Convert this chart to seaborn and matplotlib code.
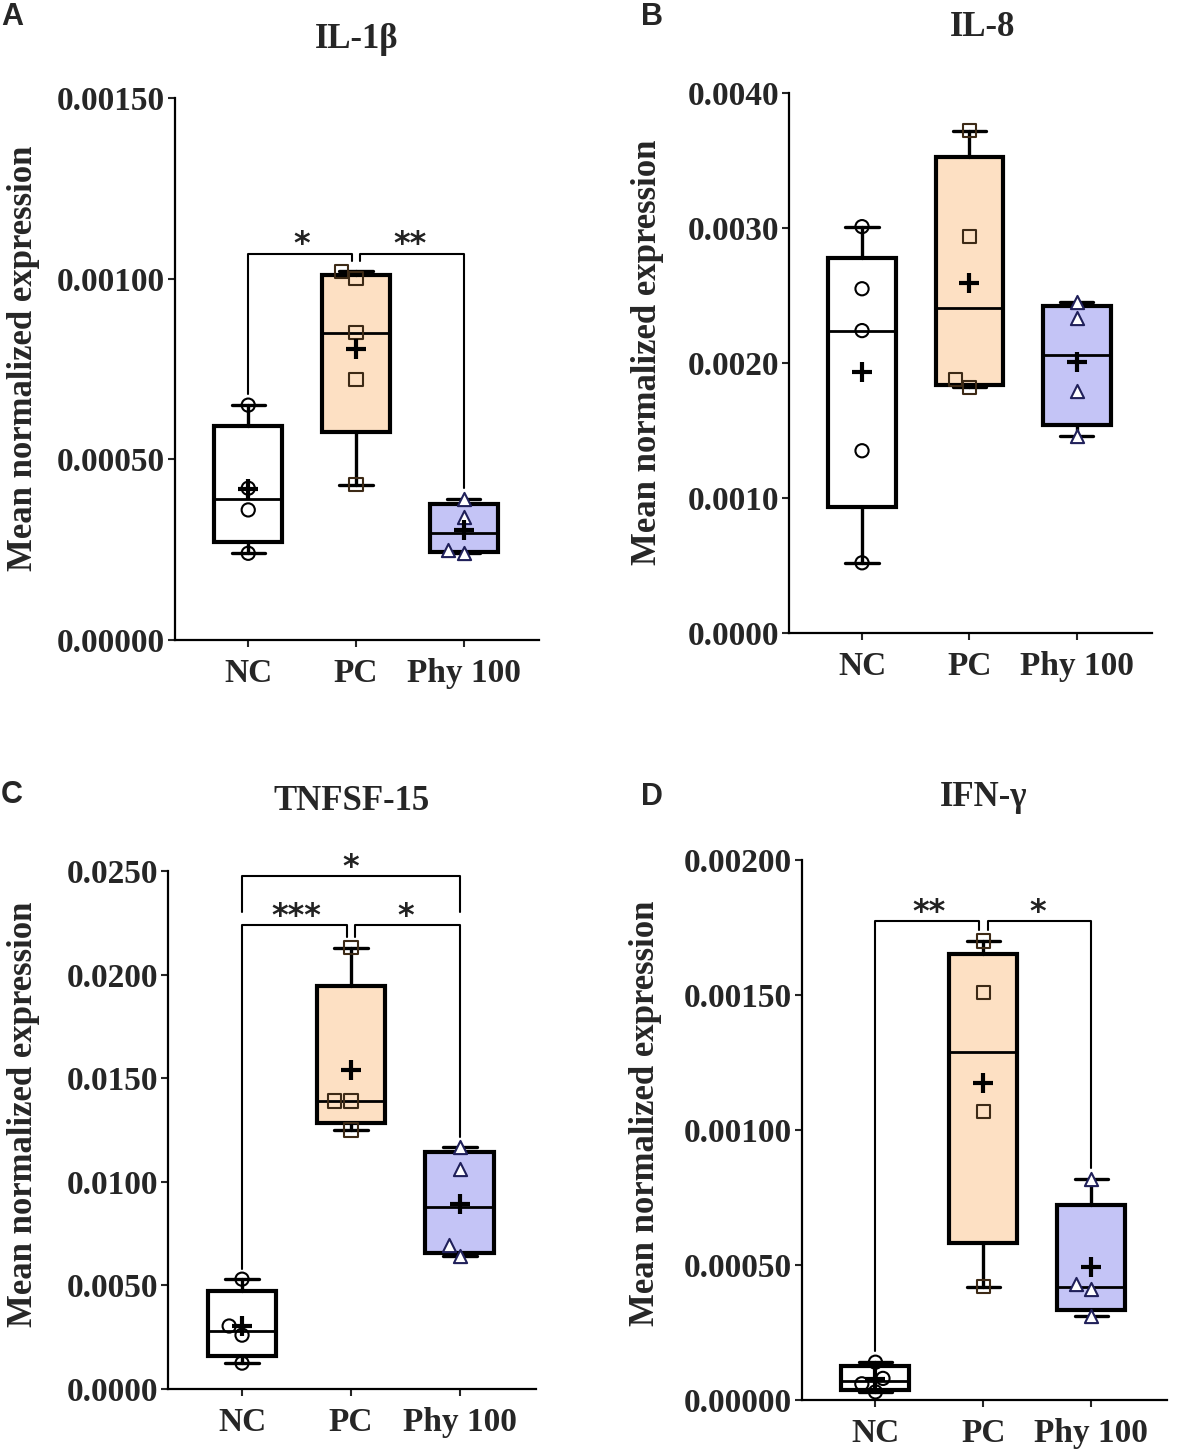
import numpy as np
import pandas as pd
import matplotlib.pyplot as plt
import seaborn as sns
from matplotlib.ticker import FormatStrFormatter

sns.set_theme(style="ticks")
plt.rcParams["font.family"] = ["Liberation Serif", "DejaVu Serif"]
plt.rcParams["font.weight"] = "bold"

groups = ["NC", "PC", "Phy 100"]

# values
il1b_nc = [0.00065, 0.00042, 0.00036, 0.00024]
il1b_pc = [0.00102, 0.00100, 0.00085, 0.00072, 0.00043]
il1b_phy = [0.00039, 0.00034, 0.00025, 0.00024]

il8_nc = [0.00301, 0.00255, 0.00224, 0.00135, 0.00052]
il8_pc = [0.00372, 0.00294, 0.00188, 0.00182]
il8_phy = [0.00245, 0.00233, 0.00179, 0.00146]

tnf_nc = [0.0053, 0.00304, 0.0026, 0.00125]
tnf_pc = [0.0213, 0.0139, 0.0139, 0.0125]
tnf_phy = [0.01168, 0.01062, 0.00695, 0.00642]

ifn_nc = [0.00014, 0.00008, 0.00006, 0.00003]
ifn_pc = [0.0017, 0.00151, 0.00107, 0.00042]
ifn_phy = [0.00082, 0.00043, 0.00041, 0.00031]

# significance: (group i, group j, label)
sig_il1b = [(0, 1, "*"), (1, 2, "**")]
sig_il8 = []
sig_tnf = [(0, 1, "***"), (1, 2, "*"), (0, 2, "*")]
sig_ifn = [(0, 1, "**"), (1, 2, "*")]

box_fill = ["white", "#fde0c3", "#c4c4f6"]
mk = ["o", "s", "^"]
mk_edge = ["black", "#3d2a16", "#20205a"]

W, H = 1181, 1451
fig = plt.figure(figsize=(W / 100, H / 100), dpi=100)


def px_axes(left, right, top, bottom):
    return fig.add_axes([left / W, 1 - bottom / H, (right - left) / W, (bottom - top) / H])


def panel(ax, data, ymax, yticks, fmt, sigs, bracket_y, top_y=None):
    df = pd.DataFrame({"group": [g for g, v in zip(groups, data) for _ in v],
                       "value": [x for v in data for x in v]})

    stats = []
    for v in data:
        q1, med, q3 = np.percentile(v, [25, 50, 75], method="weibull")
        stats.append(dict(med=med, q1=q1, q3=q3, whislo=min(v), whishi=max(v), fliers=[]))
    bp = ax.bxp(stats, positions=[0, 1, 2], widths=0.63, capwidths=0.31,
                patch_artist=True, showfliers=False, manage_ticks=False,
                boxprops=dict(linewidth=3, edgecolor="black"),
                whiskerprops=dict(linewidth=2.4, color="black"),
                capprops=dict(linewidth=2.4, color="black"),
                medianprops=dict(linewidth=2, color="black"))
    for patch, c in zip(bp["boxes"], box_fill):
        patch.set_facecolor(c)

    for i, g in enumerate(groups):
        n0 = len(ax.collections)
        sns.swarmplot(data=df[df["group"] == g], x="group", y="value", order=groups,
                      marker=mk[i], size=9.5, color="white", edgecolor=mk_edge[i],
                      linewidth=1.5, ax=ax, zorder=3)
        for coll in ax.collections[n0:]:
            if len(coll.get_offsets()) == 0:
                continue
            coll.set_facecolor("none" if i < 2 else "white")
            coll.set_clip_on(False)

    sns.pointplot(data=df, x="group", y="value", order=groups, estimator="mean",
                  errorbar=None, markers="+", linestyles="none", color="black",
                  markersize=14, markeredgewidth=3, ax=ax, zorder=5)

    # significance brackets
    gap = 0.02 * ymax
    tops = [max(v) + gap for v in data]
    for i, j, lab in sigs:
        if i == 0 and j == 2:
            y = top_y * ymax
            lo_i = lo_j = y - 0.07 * ymax
            xi, xj = i, j
        else:
            y = bracket_y * ymax
            lo_i, lo_j = tops[i], tops[j]
            xi = i + (0.04 if i == 1 else 0)
            xj = j - (0.04 if j == 1 else 0)
        ax.plot([xi, xi, xj, xj], [lo_i, y, y, lo_j], color="black", lw=1.5,
                clip_on=False, zorder=4)
        ax.annotate(lab, xy=((i + j) / 2, y), xytext=(0, -5), textcoords="offset points",
                    ha="center", va="bottom", fontsize=23, family="DejaVu Sans",
                    fontweight="bold", color="#222222", annotation_clip=False)

    ax.set_xlim(-0.68, 2.70)
    ax.set_ylim(0, ymax)
    ax.set_yticks(yticks)
    ax.yaxis.set_major_formatter(FormatStrFormatter(fmt))
    ax.set_xticks([0, 1, 2])
    ax.set_xticklabels(groups)
    ax.set_xlabel("")
    ax.set_ylabel("Mean normalized expression", fontsize=25, fontweight="bold")
    ax.tick_params(axis="both", labelsize=24, width=1.5, length=5, pad=2)
    for lab in ax.get_xticklabels() + ax.get_yticklabels():
        lab.set_fontweight("bold")
    ax.tick_params(axis="x", pad=8)
    sns.despine(ax=ax)
    for s in ["left", "bottom"]:
        ax.spines[s].set_linewidth(1.6)
        ax.spines[s].set_color("black")


axA = px_axes(175, 539, 98, 640)
panel(axA, [il1b_nc, il1b_pc, il1b_phy], 0.0015, [0, 0.0005, 0.001, 0.0015], "%.5f",
      sig_il1b, 0.713)
axA.yaxis.set_label_coords(-0.371, 0.52)

axB = px_axes(789, 1152, 93, 633)
panel(axB, [il8_nc, il8_pc, il8_phy], 0.004, [0, 0.001, 0.002, 0.003, 0.004], "%.4f",
      sig_il8, 0.9)
axB.yaxis.set_label_coords(-0.344, 0.52)

axC = px_axes(168, 536, 871, 1389)
panel(axC, [tnf_nc, tnf_pc, tnf_phy], 0.025, [0, 0.005, 0.01, 0.015, 0.02, 0.025], "%.4f",
      sig_tnf, 0.896, top_y=0.99)
axC.yaxis.set_label_coords(-0.348, 0.53)

axD = px_axes(802, 1167, 860, 1400)
panel(axD, [ifn_nc, ifn_pc, ifn_phy], 0.002, [0, 0.0005, 0.001, 0.0015, 0.002], "%.5f",
      sig_ifn, 0.887)
axD.yaxis.set_label_coords(-0.384, 0.53)

titles = [("IL-1β", 357, 40), ("IL-8", 983, 27), ("TNFSF-15", 352, 802), ("IFN-γ", 984, 797)]
for t, x, y in titles:
    fig.text(x / W, 1 - y / H, t, ha="center", va="center", fontsize=25, fontweight="bold")

letters = [("A", 1, 17), ("B", 641, 17), ("C", 1, 795), ("D", 641, 797)]
for t, x, y in letters:
    fig.text(x / W, 1 - y / H, t, ha="left", va="center", fontsize=22, fontweight="bold",
             family="Liberation Sans")

fig.savefig("out.png", dpi=100)
